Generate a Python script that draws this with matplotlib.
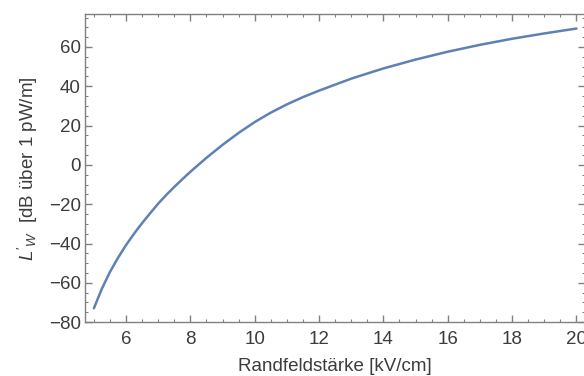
import matplotlib
matplotlib.use("Agg")
import matplotlib.pyplot as plt
from matplotlib.ticker import MultipleLocator

plt.rcParams['font.family'] = ['Liberation Sans', 'DejaVu Sans']
plt.rcParams['mathtext.fontset'] = 'custom'
plt.rcParams['mathtext.rm'] = 'Liberation Sans'
plt.rcParams['mathtext.it'] = 'Liberation Sans:italic'

# Randfeldstaerke [kV/cm] vs. Schallleistungspegel [dB]
field = [5.0, 5.25, 5.5, 5.75, 6.0, 6.25, 6.5, 6.75, 7.0, 7.25, 7.5, 7.75, 8.0,
         8.5, 9.0, 9.5, 10.0, 10.5, 11.0, 11.5, 12.0,
         13.0, 14.0, 15.0, 16.0, 17.0, 18.0, 19.0, 20.0]
level = [-73.0, -63.0, -54.5, -47.3, -40.8, -35.0, -29.6, -24.6, -19.7, -15.3, -11.2, -7.3, -3.5,
         3.6, 10.2, 16.3, 21.8, 26.6, 30.8, 34.5, 37.8,
         43.9, 49.1, 53.6, 57.6, 61.1, 64.2, 66.9, 69.4]

x_ticks = [6, 8, 10, 12, 14, 16, 18, 20]
y_ticks = [-80, -60, -40, -20, 0, 20, 40, 60]

frame_col = '#808080'
text_col = '#3c3c3c'
fs = 13.5

fig = plt.figure(figsize=(5.84, 3.76), dpi=100)
ax = fig.add_axes([0.1455, 0.1423, 0.857, 0.8205])

ax.plot(field, level, color='#5e81b5', lw=1.8, solid_capstyle='round')

ax.set_xlim(4.724, 20.28)
ax.set_ylim(-80.2, 76.8)
ax.set_xticks(x_ticks)
ax.set_yticks(y_ticks)
ax.xaxis.set_minor_locator(MultipleLocator(0.5))
ax.yaxis.set_minor_locator(MultipleLocator(5))

for s in ax.spines.values():
    s.set_color(frame_col)
    s.set_linewidth(1.0)

ax.tick_params(which='both', direction='in', top=True, right=True,
               color=frame_col, labelcolor=text_col, labelsize=fs)
ax.tick_params(which='major', length=5, width=1.0)
ax.tick_params(which='minor', length=2.5, width=0.8)
ax.tick_params(axis='x', which='major', pad=6)
ax.tick_params(axis='y', which='major', pad=3)

ax.set_xlabel('Randfeldstärke [kV/cm]', fontsize=fs, color=text_col, labelpad=7)
ax.set_ylabel(r"$L'_{W}$  [dB über 1 pW/m]", fontsize=fs, color=text_col, labelpad=6)

fig.savefig('out.png', dpi=100)
